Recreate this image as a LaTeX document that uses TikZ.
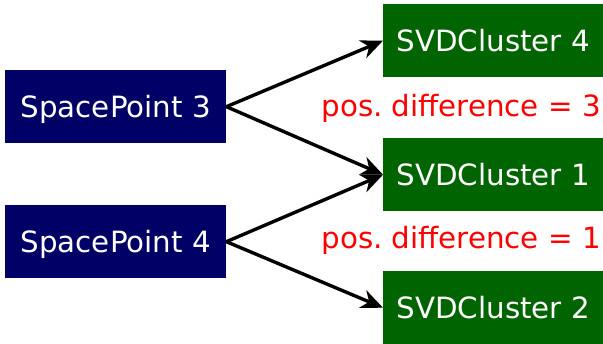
\documentclass[tikz,border=0pt]{standalone}
\usepackage{fontspec}
\setmainfont{DejaVu Sans}
\usetikzlibrary{arrows.meta}
\definecolor{spnavy}{RGB}{0,0,102}
\definecolor{svdgreen}{RGB}{0,100,0}
\begin{document}
\frenchspacing
\begin{tikzpicture}[x=1pt,y=-1pt,
  box/.style={draw=none, minimum width=221pt, minimum height=73pt, inner sep=0pt,
    text=white, font=\fontsize{29.3}{34}\selectfont, text height=21pt, text depth=0pt,
    anchor=north west},
  sp/.style={box, fill=spnavy},
  cl/.style={box, fill=svdgreen, minimum width=220pt},
  diff/.style={text=red, font=\fontsize{29.3}{34}\selectfont, anchor=base east, inner sep=0pt},
  link/.style={line width=3.4pt, -{Stealth[length=22pt,width=19pt,inset=7pt]}}]
\useasboundingbox (0,0) rectangle (603,344);
% space points (left column)
\node[sp] (sp3) at (5,70) {SpacePoint 3};
\node[sp] (sp4) at (5,205) {SpacePoint 4};
% clusters (right column)
\node[cl] (c4) at (383,4) {SVDCluster 4};
\node[cl] (c1) at (383,138) {SVDCluster 1};
\node[cl] (c2) at (383,271) {SVDCluster 2};
% position differences
\node[diff] (d3) at (601,117) {pos. difference = 3};
\node[diff] (d1) at (601,249) {pos. difference = 1};
% candidate links
\draw[link] (sp3.east) -- (c4.west);
\draw[link] (sp3.east) -- (c1.west);
\draw[link] (sp4.east) -- (c1.west);
\draw[link] (sp4.east) -- (c2.west);
\end{tikzpicture}
\end{document}
